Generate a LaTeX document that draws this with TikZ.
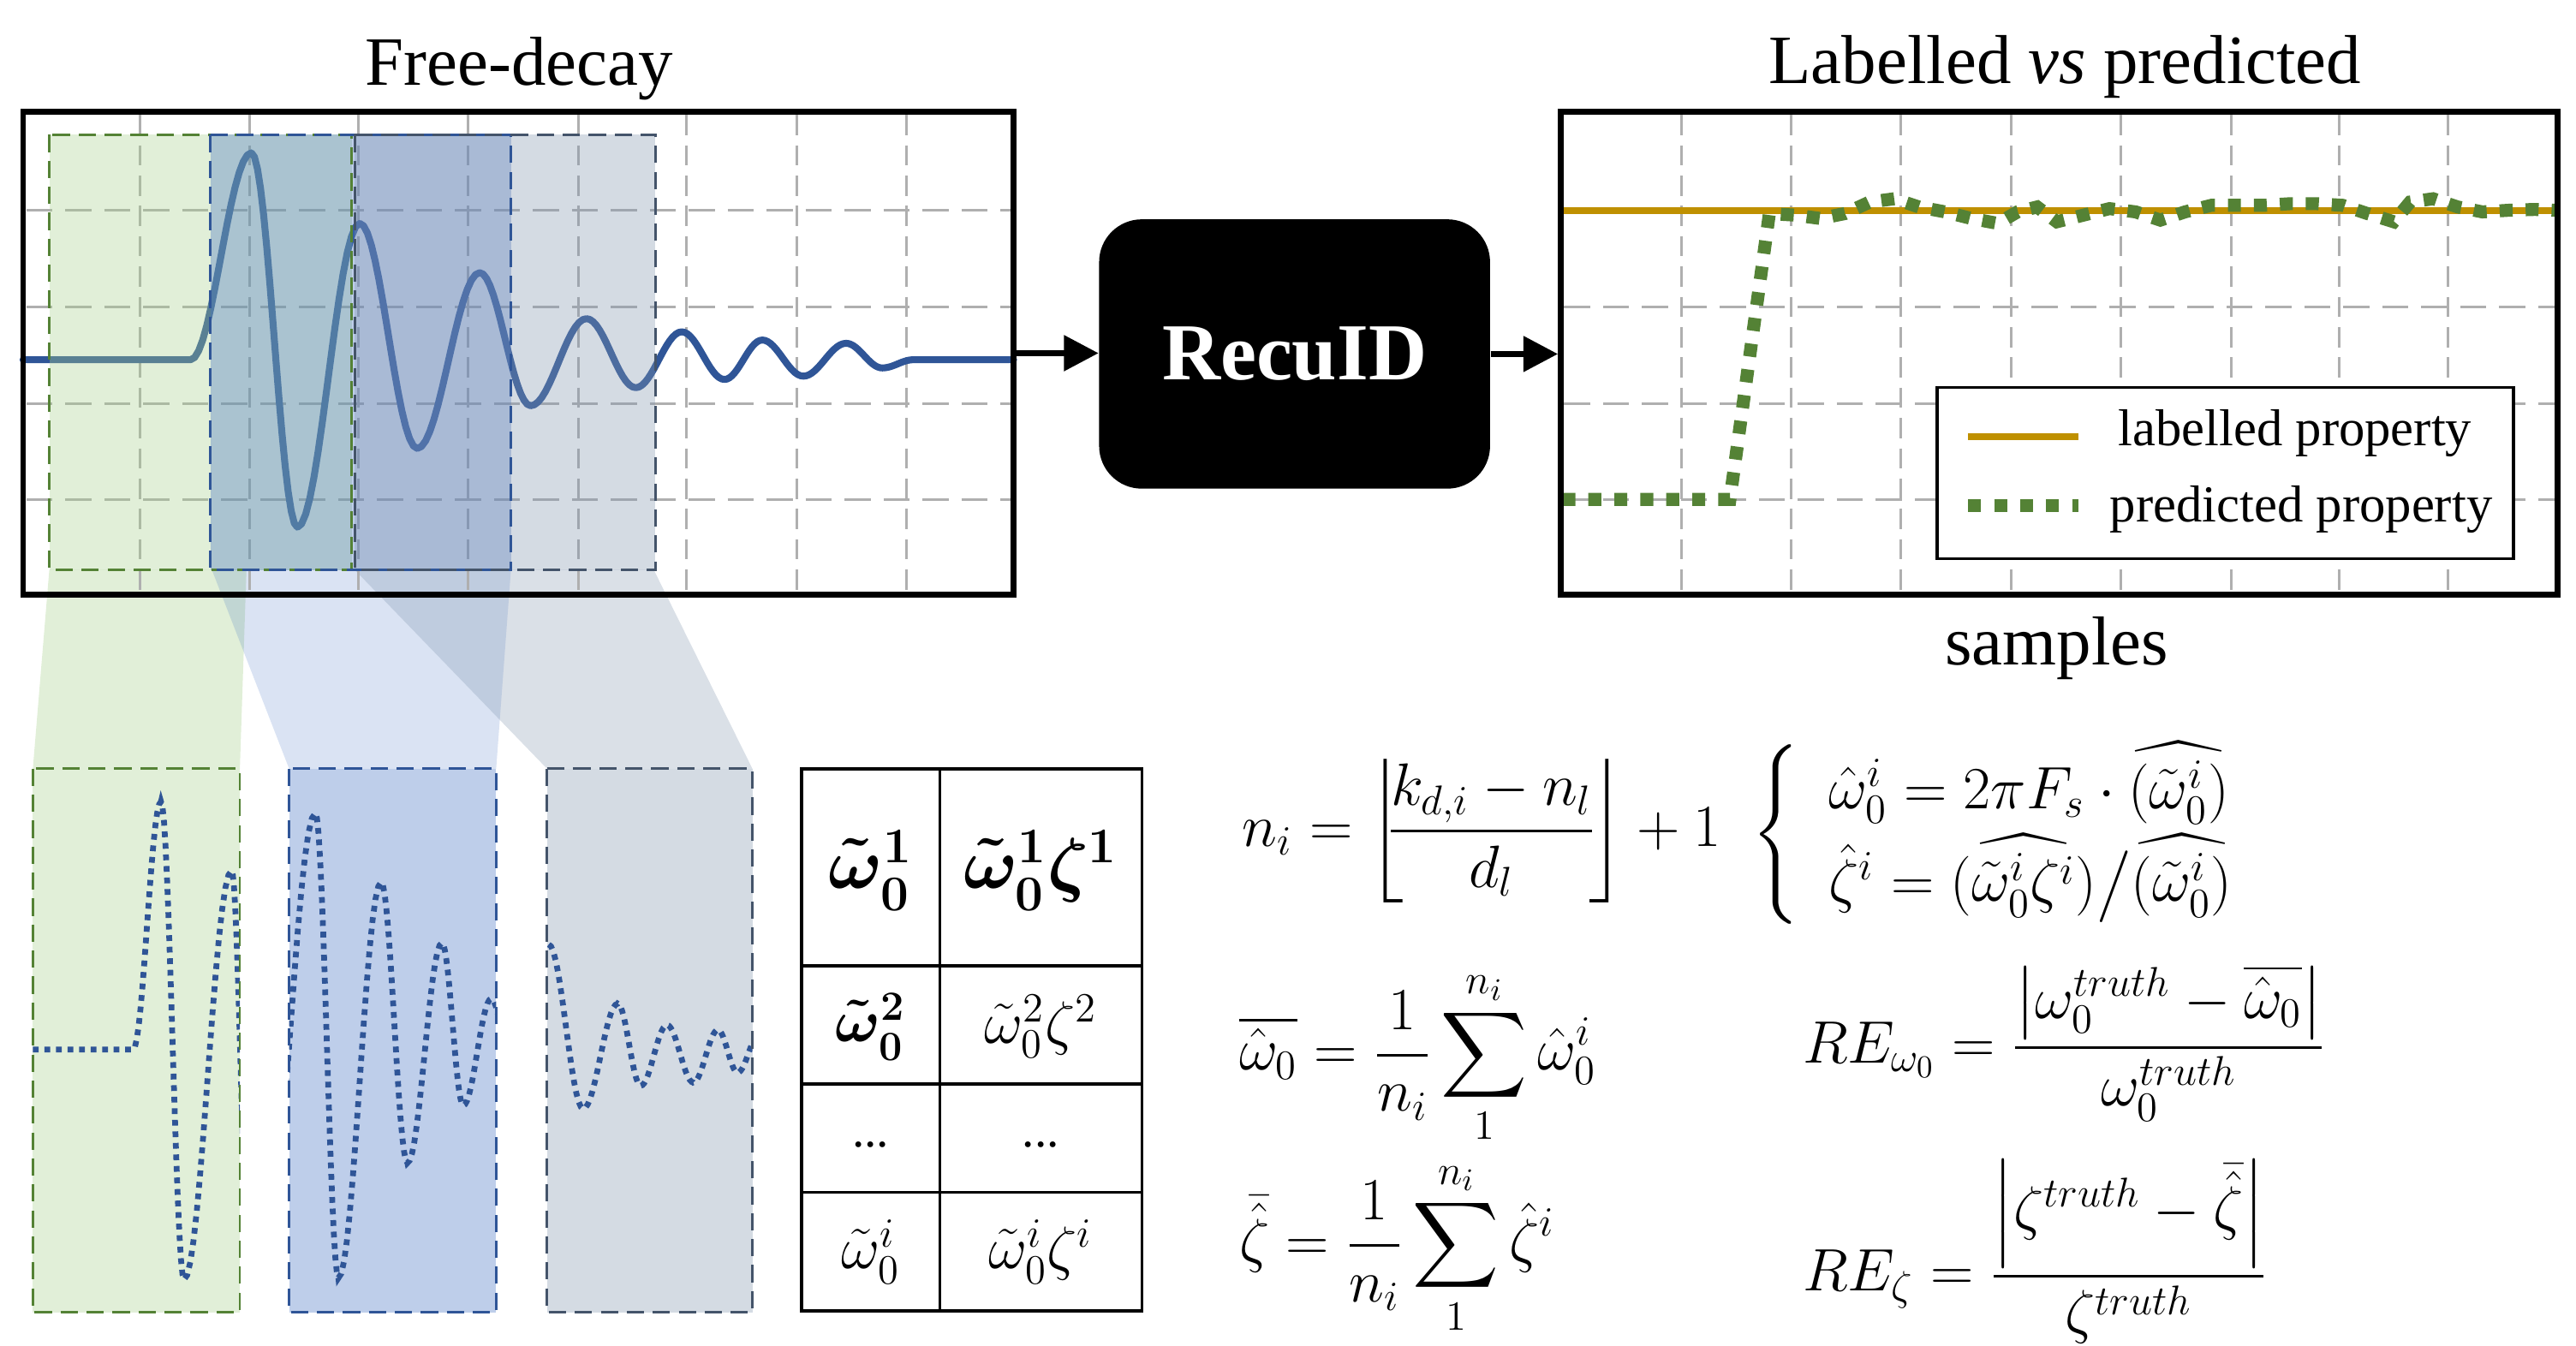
\documentclass[tikz,border=0pt]{standalone}
\usepackage{amsmath}
\usepackage{fontspec}
\setmainfont{Liberation Serif}
\usetikzlibrary{arrows.meta}
\definecolor{sigblue}{RGB}{47,85,151}
\definecolor{wgreen}{RGB}{169,209,142}
\definecolor{wblue}{RGB}{68,114,196}
\definecolor{wgray}{RGB}{132,151,176}
\definecolor{bgreen}{RGB}{84,130,53}
\definecolor{bblue}{RGB}{47,85,151}
\definecolor{bgray}{RGB}{68,84,106}
\definecolor{gridgray}{RGB}{175,175,175}
\definecolor{labor}{RGB}{191,144,0}
\definecolor{predgreen}{RGB}{84,130,53}
\begin{document}
\begin{tikzpicture}[x=0.02cm,y=-0.02cm,
  sigline/.style={draw=sigblue, line width=2.4pt, line join=round, line cap=round},
  dotline/.style={draw=sigblue, line width=2pt, dash pattern=on 2pt off 2pt},
  gridv/.style={draw=gridgray, line width=0.9pt, dash pattern=on 7pt off 3.5pt},
  gridh/.style={draw=gridgray, line width=0.9pt, dash pattern=on 9pt off 4.5pt},
  wdash/.style={line width=0.8pt, dash pattern=on 6pt off 3pt},
  panel/.style={draw=black, line width=2pt, minimum height=5.88cm, inner sep=0},
  arr/.style={line width=2.2pt, -{Triangle[length=12pt,width=12pt]}},
  recubox/.style={fill=black, rounded corners=0.52cm, minimum width=4.76cm, minimum height=3.28cm, text=white, font=\bfseries\fontsize{28}{32}\selectfont},
  mathf/.style={font=\fontsize{21}{25}\selectfont, anchor=west, inner sep=0},
  cellf/.style={font=\fontsize{21}{25}\selectfont, inner sep=0},
  titlef/.style={font=\fontsize{24}{28}\selectfont, anchor=base, inner sep=0},
  legf/.style={font=\fontsize{18}{22}\selectfont, anchor=west, inner sep=0},
  tline/.style={draw=black, line width=1pt}
]
\useasboundingbox (0,0) rectangle (1568,819);

% ---------- projections ----------
\fill[wgreen, fill opacity=.35] (30,347) -- (150,347) -- (146,468) -- (20,468) -- cycle;
\fill[wblue, fill opacity=.2] (129,347) -- (311,347) -- (302,468) -- (176,468) -- cycle;
\fill[wgray, fill opacity=.3] (216,347) -- (398,347) -- (458,468) -- (333,468) -- cycle;

% ---------- left panel ----------
\foreach \x in {85,152,218,285,352,418,485,552} \draw[gridv] (\x,70) -- (\x,360);
\foreach \y in {128,187,246,304} \draw[gridh] (16,\y) -- (615,\y);
\draw[sigline] (14,219) -- (116,219)
  \foreach \xa/\ya/\xb/\yb in {116/219/153/93, 153/93/181/321, 181/321/219/136, 219/136/254/273, 254/273/292/166, 292/166/323/247, 323/247/357/194, 357/194/387/236, 387/236/415/202, 415/202/441/231, 441/231/464/207, 464/207/489/229, 489/229/515/209, 515/209/537/224, 537/224/556/219}
  { -- plot[domain=0:1, samples=16, variable=\t] ({\xa+(\xb-\xa)*\t},{(\ya+\yb)/2+(\ya-\yb)/2*cos(180*\t)}) }
  -- (617,219);
\fill[wgreen, fill opacity=.35] (30,82) rectangle (214,347);
\fill[wblue, fill opacity=.35] (128,82) rectangle (311,347);
\fill[wgray, fill opacity=.35] (216,82) rectangle (399,347);
\draw[bgreen, wdash] (30,82) rectangle (214,347);
\draw[bblue, wdash] (128,82) rectangle (311,347);
\draw[bgray, wdash] (216,82) rectangle (399,347);
\node[panel, minimum width=12.06cm] (lp) at (315.5,215) {};

% ---------- bottom boxes ----------
\fill[wgreen, fill opacity=.35] (20,468) rectangle (146,799);
\fill[wblue, fill opacity=.35] (176,468) rectangle (302,799);
\fill[wgray, fill opacity=.35] (333,468) rectangle (458,799);
\begin{scope}
\clip (20,468) rectangle (146,799);
\draw[dotline] (20,639) -- (81,639)
  \foreach \xa/\ya/\xb/\yb in {81/639/98/488, 98/488/112/779, 112/779/141/530, 141/530/152/770}
  { -- plot[domain=0:1, samples=16, variable=\t] ({\xa+(\xb-\xa)*\t},{(\ya+\yb)/2+(\ya-\yb)/2*cos(180*\t)}) };
\end{scope}
\begin{scope}
\clip (176,468) rectangle (302,799);
\draw[dotline] (160,778)
  \foreach \xa/\ya/\xb/\yb in {160/778/192/495, 192/495/206/778, 206/778/232/537, 232/537/248/708, 248/708/269/574, 269/574/282/673, 282/673/299/608, 299/608/312/650}
  { -- plot[domain=0:1, samples=16, variable=\t] ({\xa+(\xb-\xa)*\t},{(\ya+\yb)/2+(\ya-\yb)/2*cos(180*\t)}) };
\end{scope}
\begin{scope}
\clip (333,468) rectangle (458,799);
\draw[dotline] (334,575)
  \foreach \xa/\ya/\xb/\yb in {334/575/355/675, 355/675/376/611, 376/611/390/661, 390/661/406/624, 406/624/422/659, 422/659/437/627, 437/627/449/653, 449/653/462/630}
  { -- plot[domain=0:1, samples=16, variable=\t] ({\xa+(\xb-\xa)*\t},{(\ya+\yb)/2+(\ya-\yb)/2*cos(180*\t)}) };
\end{scope}
\draw[bgreen, wdash] (20,468) rectangle (146,799);
\draw[bblue, wdash] (176,468) rectangle (302,799);
\draw[bgray, wdash] (333,468) rectangle (458,799);

% ---------- table ----------
\draw[tline] (488,468) rectangle (695,798);
\draw[tline] (572,468) -- (572,798);
\foreach \y in {588,660,726} \draw[tline] (488,\y) -- (695,\y);
\node[cellf, font=\fontsize{26}{30}\selectfont] (c11) at (530,530) {$\boldsymbol{\tilde{\omega}_0^1}$};
\node[cellf, font=\fontsize{26}{30}\selectfont] (c12) at (633.5,530) {$\boldsymbol{\tilde{\omega}_0^1\zeta^1}$};
\node[cellf] (c21) at (530,625) {$\boldsymbol{\tilde{\omega}_0^2}$};
\node[cellf] (c22) at (633.5,625) {$\tilde{\omega}_0^2\zeta^2$};
\node[cellf, font=\fontsize{17}{20}\selectfont] (c31) at (530,697) {...};
\node[cellf, font=\fontsize{17}{20}\selectfont] (c32) at (633.5,697) {...};
\node[cellf] (c41) at (530,762) {$\tilde{\omega}_0^i$};
\node[cellf] (c42) at (633.5,762) {$\tilde{\omega}_0^i\zeta^i$};

% ---------- formulas ----------
\node[mathf] (f1) at (756,506) {$n_i=\left\lfloor\mkern-5mu\dfrac{k_{d,i}-n_l}{d_l}\mkern-2mu\right\rfloor+1$};
\node[mathf] (f2) at (1066,508) {$\begin{cases}\hspace{10pt}\hat{\omega}_0^i=2\pi F_s\cdot\widehat{(\tilde{\omega}_0^i)}\\[0pt]\hspace{10pt}\hat{\zeta}^i=\widehat{(\tilde{\omega}_0^i\zeta^i)}\big/\widehat{(\tilde{\omega}_0^i)}\end{cases}$};
\node[mathf] (f3) at (754,644) {$\overline{\hat{\omega}_0}=\dfrac{1}{n_i}\displaystyle\sum_{1}^{n_i}\hat{\omega}_0^i$};
\node[mathf] (f4) at (754,760) {$\bar{\hat{\zeta}}=\dfrac{1}{n_i}\displaystyle\sum_{1}^{n_i}\hat{\zeta}^i$};
\node[mathf] (f5) at (1097,635) {$RE_{\omega_0}=\dfrac{\left|\omega_0^{truth}-\overline{\hat{\omega}_0}\right|}{\omega_0^{truth}}$};
\node[mathf] (f6) at (1097,762) {$RE_{\zeta}=\dfrac{\left|\zeta^{truth}-\bar{\hat{\zeta}}\right|}{\zeta^{truth}}$};

% ---------- right panel ----------
\foreach \x in {1023.5,1090,1157,1224,1291,1358,1424,1490} \draw[gridv] (\x,70) -- (\x,360);
\foreach \y in {128,187,246,304} \draw[gridh] (952,\y) -- (1555,\y);
\draw[labor, line width=2.4pt] (951,128) -- (1556,128);
\draw[predgreen, line width=4.5pt, dash pattern=on 4.5pt off 4.5pt]
  (951,304) -- (1053,304) -- (1077,130) -- (1093,131) -- (1108,133) -- (1123,130) -- (1138,123) -- (1153,121) -- (1168,126) -- (1184,129) -- (1200,133) -- (1216,136) -- (1228,129) -- (1240,126) -- (1252,135) -- (1268,131) -- (1284,127) -- (1300,129) -- (1315,134) -- (1330,129) -- (1346,125) -- (1362,125) -- (1378,125) -- (1394,124) -- (1410,124) -- (1426,125) -- (1441,130) -- (1457,135) -- (1467,123) -- (1481,121) -- (1496,126) -- (1511,129) -- (1527,128) -- (1543,127.5) -- (1555,128);
\node[draw=black, line width=1pt, fill=white, minimum width=7.02cm, minimum height=2.08cm, inner sep=0] (leg) at (1354.5,288) {};
\draw[labor, line width=2.4pt] (1198,266) -- (1265,266);
\draw[predgreen, line width=4.5pt, dash pattern=on 4.5pt off 4.5pt] (1198,308) -- (1265,308);
\node[legf] (leg1) at (1289,264) {labelled property};
\node[legf] (leg2) at (1284,310) {predicted property};
\node[panel, minimum width=12.14cm] (rp) at (1253.5,215) {};

% ---------- RecuID and arrows ----------
\node[recubox] (recu) at (788,215.5) {RecuID};
\draw[arr] (lp.east) -- (lp.east -| recu.west);
\draw[arr] (recu.east) -- (recu.east -| rp.west);

% ---------- titles ----------
\node[titlef] (tt1) at (316,52) {Free-decay};
\node[titlef] (tt2) at (1257,51) {Labelled \textit{vs} predicted};
\node[titlef] (tt3) at (1252,405) {samples};
\end{tikzpicture}
\end{document}
